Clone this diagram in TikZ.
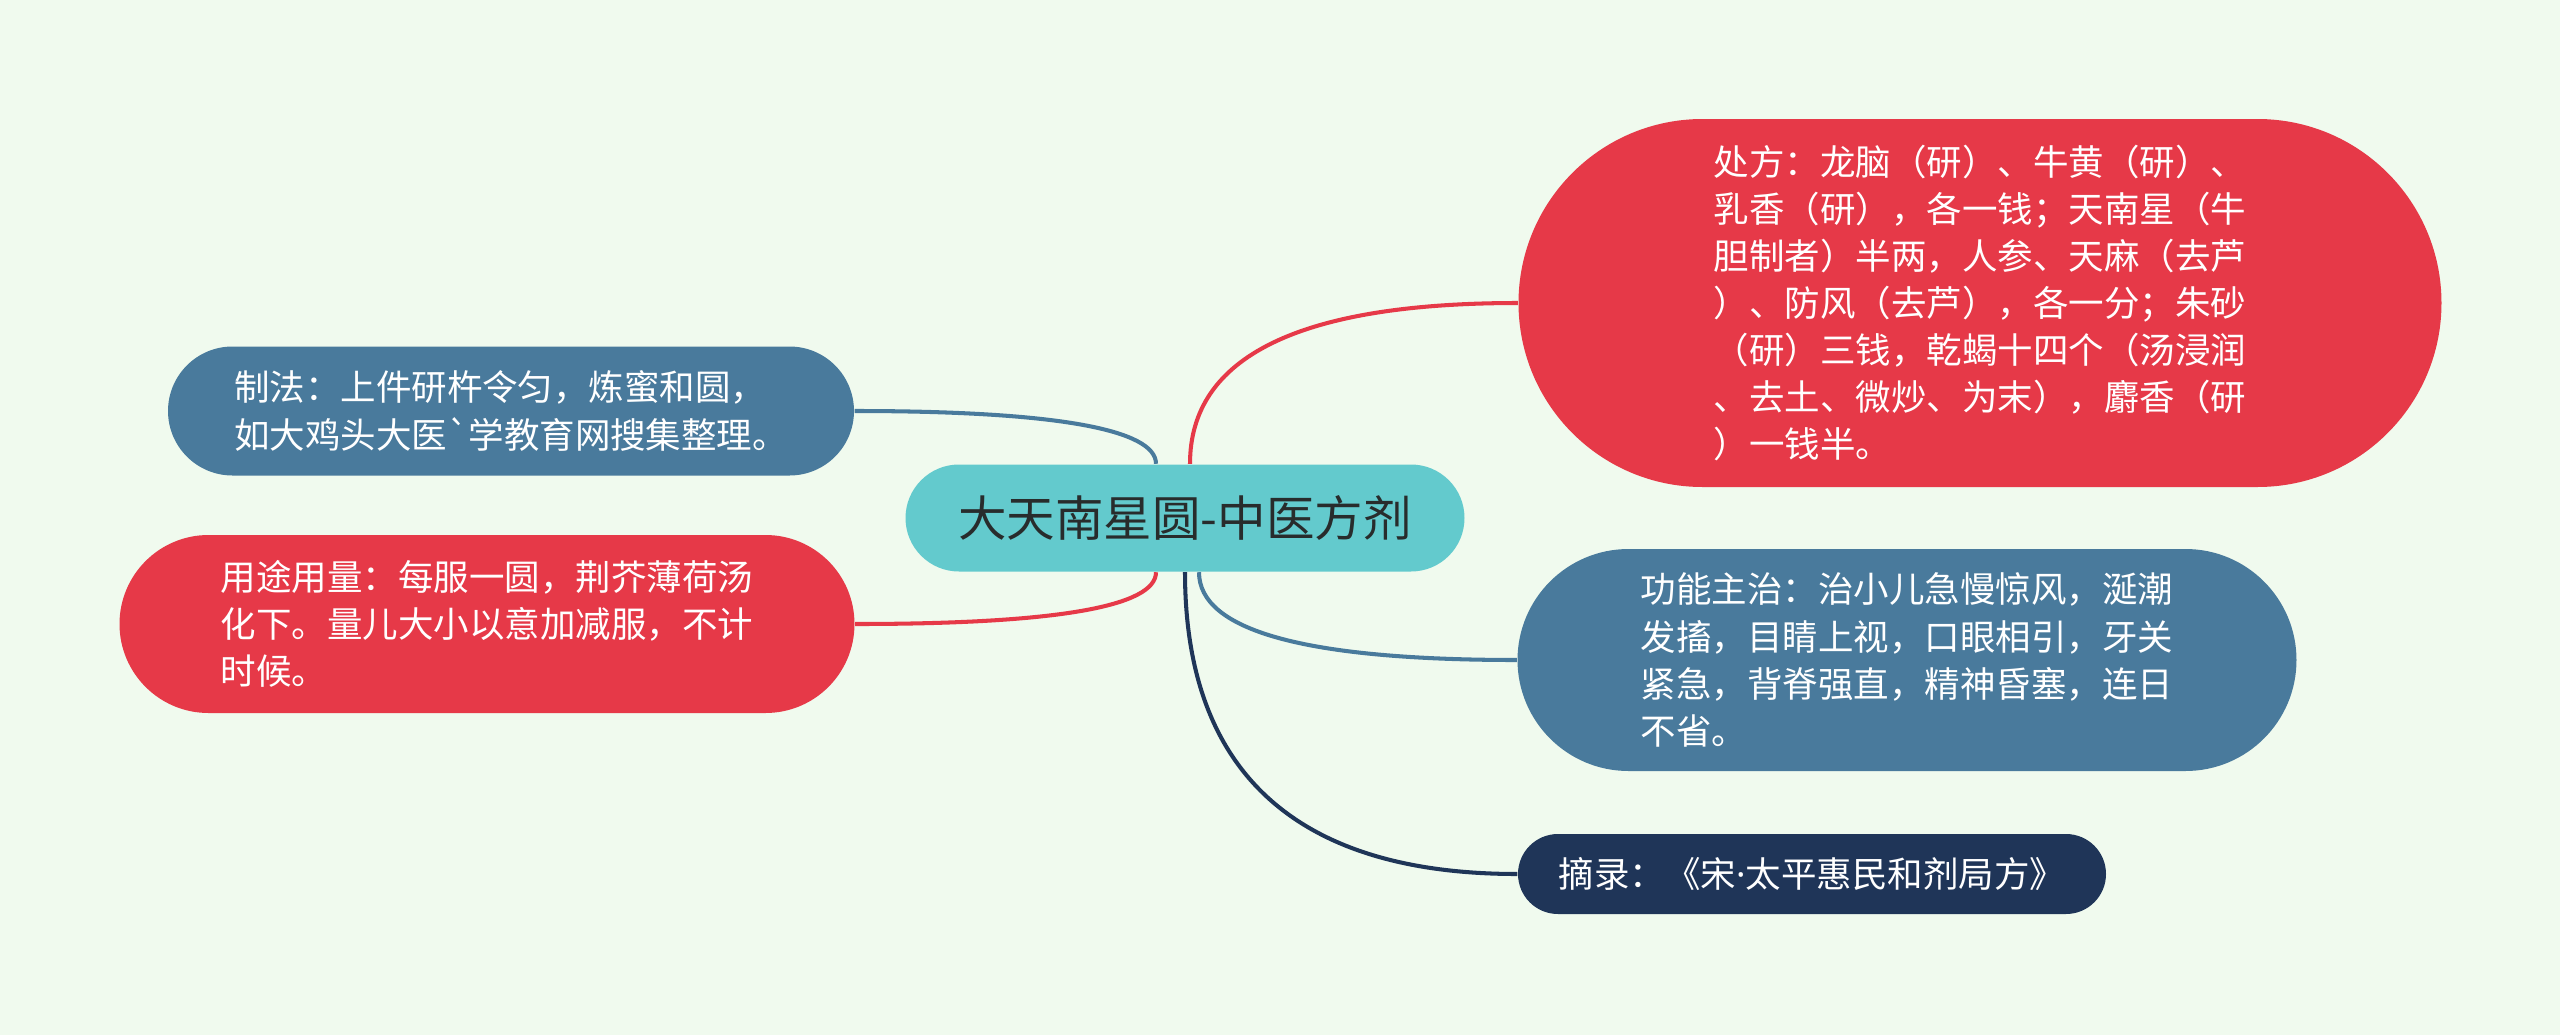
\documentclass[tikz,border=0pt]{standalone}
\usepackage{fontspec}
\setmainfont{Noto Sans CJK SC}[Ligatures=TeXOff]
\newfontfamily\latinfont{Noto Sans}
\usetikzlibrary{shapes.misc,calc}
\definecolor{cbg}{RGB}{240,250,238}
\definecolor{cred}{RGB}{230,57,72}
\definecolor{cblue}{RGB}{73,122,156}
\definecolor{cnavy}{RGB}{31,53,88}
\definecolor{cteal}{RGB}{99,202,205}
\definecolor{ctext}{RGB}{40,44,44}

\begin{document}
\begin{tikzpicture}[
  x=0.1mm,y=-0.1mm,
  topic/.style={rounded rectangle,inner sep=0pt,fill=cteal,text=ctext,font=\fontsize{13.8}{16}\selectfont,minimum width=55.9mm,minimum height=10.7mm},
  pill/.style={rounded rectangle,inner sep=0pt,align=left,text=white,font=\fontsize{10.1}{13.4}\selectfont},
  link/.style={line width=1.15pt}
]
  \fill[cbg] (0,0) rectangle (2560,1035);
  \useasboundingbox (0,0) rectangle (2560,1035);

  \node[topic] (root) at (1185,518) {大天南星圆-中医方剂};

  % right side
  \node[pill,fill=cred,minimum width=92.3mm,minimum height=36.8mm] (chufang) at (1980,303)
    {处方：龙脑（研）、牛黄（研）、\\乳香（研），各一钱；天南星（牛\\胆制者）半两，人参、天麻（去芦\\）、防风（去芦），各一分；朱砂\\（研）三钱，乾蝎十四个（汤浸润\\、去土、微炒、为末），麝香（研\\）一钱半。};
  \node[pill,fill=cblue,minimum width=77.9mm,minimum height=22.2mm] (gongneng) at (1907,660)
    {功能主治：治小儿急慢惊风，涎潮\\发搐，目睛上视，口眼相引，牙关\\紧急，背脊强直，精神昏塞，连日\\不省。};
  \node[pill,fill=cnavy,minimum width=58.8mm,minimum height=8mm] (zhailu) at (1812,874)
    {摘录：《宋{\latinfont ·}太平惠民和剂局方》};

  % left side
  \node[pill,fill=cblue,minimum width=68.6mm,minimum height=12.9mm] (zhifa) at (511,411)
    {制法：上件研杵令匀，炼蜜和圆，\\如大鸡头大医`学教育网搜集整理。};
  \node[pill,fill=cred,minimum width=73.5mm,minimum height=17.8mm] (yongtu) at (487,624)
    {用途用量：每服一圆，荆芥薄荷汤\\化下。量儿大小以意加减服，不计\\时候。};

  \draw[link,cred] ($(root.north)+(5,0)$) .. controls +(0,-107) and +(-219,0) .. (chufang.west);
  \draw[link,cblue] ($(root.south)+(14,0)$) .. controls +(0,58) and +(-213,0) .. (gongneng.west);
  \draw[link,cnavy] (root.south) .. controls +(0,199) and +(-222,0) .. (zhailu.west);
  \draw[link,cblue] ($(root.north)+(-29,0)$) .. controls +(0,-34) and +(203,0) .. (zhifa.east);
  \draw[link,cred] ($(root.south)+(-29,0)$) .. controls +(0,34) and +(203,0) .. (yongtu.east);
\end{tikzpicture}
\end{document}
